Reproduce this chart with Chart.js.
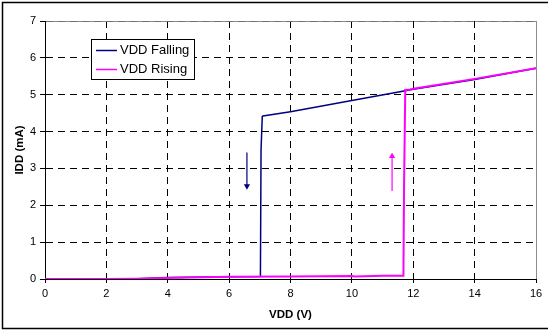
<!DOCTYPE html>
<html>
<head>
<meta charset="utf-8">
<script src="https://cdn.jsdelivr.net/npm/chart.js@4.4.0/dist/chart.umd.min.js"></script>
<style>
  html, body { margin: 0; padding: 0; background: #fff; }
  #wrap { width: 548px; height: 331px; }
</style>
</head>
<body>
<div id="wrap"><canvas id="c" width="548" height="331"></canvas></div>
<script>
// ===== Dados =====
const fallX = [16, 14, 12, 11.7, 10, 8, 7.1, 7.08, 7.04, 7.02, 6, 4, 3, 2, 0];
const fallY = [5.72, 5.41, 5.15, 5.10, 4.84, 4.54, 4.42, 4.41, 3.5, 0.07, 0.06, 0.04, 0.01, 0.0, 0.0];

const riseX = [0, 2, 3, 4, 6, 8, 10, 10.1, 11, 11.68, 11.7, 11.74, 11.9, 12, 14, 16];
const riseY = [0, 0, 0.01, 0.03, 0.06, 0.07, 0.08, 0.07, 0.09, 0.09, 2.5, 5.13, 5.14, 5.16, 5.43, 5.72];

// setas (haste + ponta)
const arrowDownX = [6.58, 6.58];
const arrowDownY = [3.43, 2.52];
const arrowUpX   = [11.31, 11.31];
const arrowUpY   = [2.39, 3.33];

const xTicks = [0, 2, 4, 6, 8, 10, 12, 14, 16];
const yTicks = [0, 1, 2, 3, 4, 5, 6, 7];
const labels = ['VDD Falling', 'VDD Rising'];

const NAVY = '#000080';
const PINK = '#FF00FF';
const FONT = 'Liberation Sans, Arial, sans-serif';

const pts = (xs, ys) => xs.map((x, i) => ({ x, y: ys[i] }));

// ===== Plugin: moldura, borda da área e legenda =====
const decor = {
  id: 'decor',
  beforeDraw(chart) {
    const { ctx, chartArea: a } = chart;
    ctx.save();
    ctx.fillStyle = '#fff';
    ctx.fillRect(0, 0, chart.width, chart.height);
    ctx.strokeStyle = '#000';
    ctx.lineWidth = 1.5;
    ctx.strokeRect(2.5, 2.5, chart.width + 10, 326);
    ctx.strokeStyle = '#8c8c8c';
    ctx.lineWidth = 1;
    ctx.strokeRect(Math.round(a.left) + 0.5, Math.round(a.top) + 0.5,
                   Math.round(a.right - a.left), Math.round(a.bottom - a.top));
    ctx.restore();
  },
  afterDraw(chart) {
    const { ctx } = chart;
    const ds = chart.data.datasets;
    ctx.save();
    ctx.fillStyle = '#fff';
    ctx.fillRect(91, 39, 103, 40);
    ctx.strokeStyle = '#000';
    ctx.lineWidth = 1;
    ctx.strokeRect(91.5, 39.5, 103, 40);
    ctx.font = '13px ' + FONT;
    ctx.textBaseline = 'middle';
    [0, 1].forEach(i => {
      const y = 50 + i * 19;
      ctx.strokeStyle = ds[i].borderColor;
      ctx.lineWidth = 1.5;
      ctx.beginPath();
      ctx.moveTo(96, y + 0.5);
      ctx.lineTo(117, y + 0.5);
      ctx.stroke();
      ctx.fillStyle = '#000';
      ctx.fillText(ds[i].label, 120, y);
    });
    ctx.restore();
  }
};

const arrowSet = (xs, ys, color, rot) => ({
  label: '',
  data: pts(xs, ys),
  borderColor: color,
  backgroundColor: color,
  borderWidth: 1.2,
  pointStyle: 'triangle',
  pointRadius: c => c.dataIndex === 1 ? 3.6 : 0,
  pointRotation: rot,
  pointBorderWidth: 0,
  order: 0
});

new Chart(document.getElementById('c'), {
  type: 'scatter',
  data: {
    datasets: [
      { label: labels[0], data: pts(fallX, fallY), showLine: true, borderColor: NAVY,
        borderWidth: 1.5, pointRadius: 0, order: 2 },
      { label: labels[1], data: pts(riseX, riseY), showLine: true, borderColor: PINK,
        borderWidth: 2, pointRadius: 0, order: 1 },
      Object.assign(arrowSet(arrowDownX, arrowDownY, NAVY, 180), { showLine: true }),
      Object.assign(arrowSet(arrowUpX, arrowUpY, PINK, 0), { showLine: true })
    ]
  },
  options: {
    responsive: false,
    animation: false,
    events: [],
    layout: { padding: { top: 21, right: 12, left: 0, bottom: 0 } },
    plugins: { legend: { display: false }, tooltip: { enabled: false } },
    scales: {
      x: {
        type: 'linear', min: 0, max: 16,
        afterBuildTicks: s => { s.ticks = xTicks.map(v => ({ value: v })); },
        afterFit: s => { s.height = 52; },
        ticks: { color: '#000', font: { family: FONT, size: 11 }, padding: 4, maxRotation: 0 },
        grid: {
          color: c => (c.tick && c.tick.value === 16) ? 'rgba(0,0,0,0)' : '#000',
          tickColor: '#000', tickLength: 4
        },
        border: { color: '#000', width: 1, dash: [7, 5] },
        title: { display: true, text: 'VDD (V)', color: '#000',
                 font: { family: FONT, size: 11.5, weight: 'bold' }, padding: { top: 0, bottom: 9.5 } }
      },
      y: {
        type: 'linear', min: 0, max: 7,
        afterBuildTicks: s => { s.ticks = yTicks.map(v => ({ value: v })); },
        afterFit: s => { s.width = 45; },
        ticks: { color: '#000', font: { family: FONT, size: 11 }, padding: 4 },
        grid: {
          color: c => (c.tick && c.tick.value === 7) ? '#707070' : '#000',
          tickColor: '#000', tickLength: 5
        },
        border: { color: '#000', width: 1, dash: [7, 5] },
        title: { display: true, text: 'IDD (mA)', color: '#000',
                 font: { family: FONT, size: 11.5, weight: 'bold' }, padding: { top: 13, bottom: 0 } }
      }
    }
  },
  plugins: [decor]
});
</script>
</body>
</html>
